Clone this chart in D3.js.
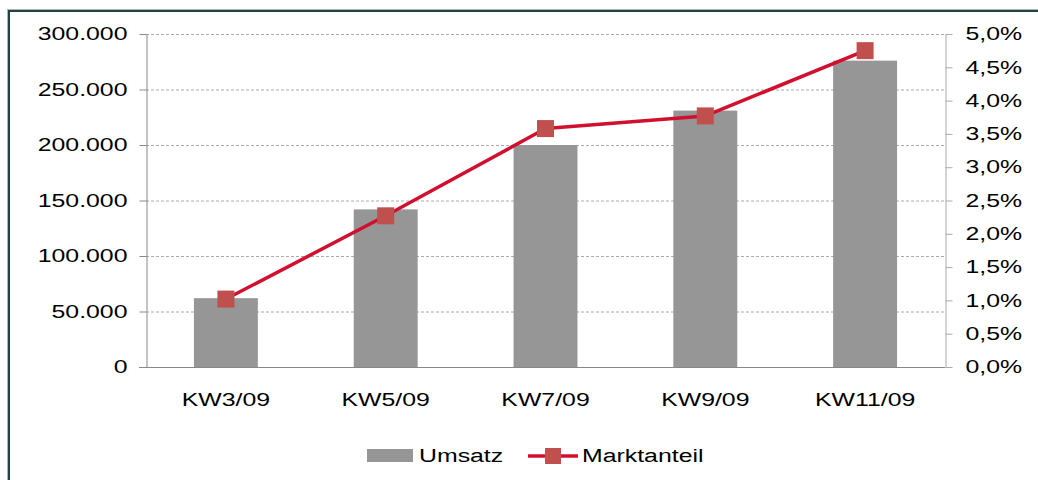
<!DOCTYPE html>
<html>
<head>
<meta charset="utf-8">
<script src="https://cdn.jsdelivr.net/npm/d3@7"></script>
<style>
  body { margin: 0; background: #fff; }
  text { font-family: "Liberation Sans", Arial, sans-serif; fill: #000; }
</style>
</head>
<body>
<div id="vis"></div>
<script>
// data
var categories = ["KW3/09", "KW5/09", "KW7/09", "KW9/09", "KW11/09"];
var umsatz = [62000, 142000, 200000, 231000, 276000];
var marktanteil = [0.0102, 0.0227, 0.0358, 0.0377, 0.0475];
var leftTicks = [0, 50000, 100000, 150000, 200000, 250000, 300000];
var rightTicks = [0, 0.005, 0.01, 0.015, 0.02, 0.025, 0.03, 0.035, 0.04, 0.045, 0.05];

// SVG geometry
var width = 1038;
var height = 480;
var plot = { left: 146, right: 945, top: 34, bottom: 367 };

var svg = d3.select('#vis')
  .append("svg")
  .attr('width', width)
  .attr('height', height);

// the original picture is stretched sideways, so widen the text the same way
function stretch(sel) {
  sel.each(function() {
    var len = this.getComputedTextLength();
    d3.select(this)
      .attr("textLength", len * 1.38)
      .attr("lengthAdjust", "spacingAndGlyphs");
  });
}

// frame
svg.append("rect")
  .attr("x", 7.5).attr("y", 9.5)
  .attr("width", width + 20).attr("height", height + 20)
  .attr("fill", "none")
  .attr("stroke", "#9fbcbc")
  .attr("stroke-width", 1);
svg.append("rect")
  .attr("x", 9).attr("y", 11)
  .attr("width", width + 20).attr("height", height + 20)
  .attr("fill", "none")
  .attr("stroke", "#2a4040")
  .attr("stroke-width", 2);

var x = d3.scaleBand()
  .domain(categories)
  .range([plot.left, plot.right])
  .paddingInner(0.6)
  .paddingOuter(0.3);

var yL = d3.scaleLinear()
  .domain([0, 300000])
  .range([plot.bottom, plot.top]);

var yR = d3.scaleLinear()
  .domain([0, 0.05])
  .range([plot.bottom, plot.top]);

var fmtL = function(d) { return d3.format(",")(d).replace(/,/g, "."); };
var fmtR = function(d) { return d3.format(".1f")(d * 100).replace(".", ",") + "%"; };

// gridlines
svg.append("g")
  .selectAll("line")
  .data(leftTicks.filter(function(d) { return d > 0; }))
  .enter().append("line")
  .attr("x1", plot.left).attr("x2", plot.right)
  .attr("y1", function(d) { return yL(d) + 0.5; })
  .attr("y2", function(d) { return yL(d) + 0.5; })
  .attr("stroke", "#aaa")
  .attr("stroke-dasharray", "3,2");

// bars
svg.append("g")
  .selectAll("rect")
  .data(umsatz)
  .enter().append("rect")
  .attr("x", function(d, i) { return x(categories[i]); })
  .attr("y", function(d) { return yL(d); })
  .attr("width", x.bandwidth())
  .attr("height", function(d) { return yL(0) - yL(d); })
  .attr("fill", "#969696");

// left axis
var axL = svg.append("g")
  .attr("transform", "translate(" + (plot.left + 0.5) + ",0)")
  .call(d3.axisLeft(yL).tickValues(leftTicks).tickFormat(fmtL).tickSize(7).tickPadding(12).tickSizeOuter(0));
axL.select(".domain").attr("stroke", "#888");
axL.selectAll(".tick line").attr("stroke", "#888");
axL.selectAll("text").style("font-size", "18px").attr("fill", "#000").call(stretch);

// right axis
var axR = svg.append("g")
  .attr("transform", "translate(" + (plot.right + 0.5) + ",0)")
  .call(d3.axisRight(yR).tickValues(rightTicks).tickFormat(fmtR).tickSize(7).tickPadding(13).tickSizeOuter(0));
axR.select(".domain").attr("stroke", "#aaa");
axR.selectAll(".tick line").attr("stroke", "#aaa");
axR.selectAll("text").style("font-size", "18px").attr("fill", "#000").call(stretch);

// bottom axis
var axB = svg.append("g")
  .attr("transform", "translate(0," + (plot.bottom + 0.5) + ")")
  .call(d3.axisBottom(x).tickSize(0).tickPadding(26));
axB.select(".domain").attr("stroke", "#888").attr("d", "M" + (plot.left - 7) + ",0H" + plot.right);
axB.selectAll("text").style("font-size", "18px").attr("fill", "#000").call(stretch);

// line
var line = d3.line()
  .x(function(d, i) { return x(categories[i]) + x.bandwidth() / 2; })
  .y(function(d) { return yR(d); });

svg.append("path")
  .datum(marktanteil)
  .attr("fill", "none")
  .attr("stroke", "#d0102e")
  .attr("stroke-width", 3.5)
  .attr("stroke-linejoin", "round")
  .attr("d", line);

svg.append("g")
  .selectAll("rect")
  .data(marktanteil)
  .enter().append("rect")
  .attr("x", function(d, i) { return x(categories[i]) + x.bandwidth() / 2 - 8.5; })
  .attr("y", function(d) { return yR(d) - 8.5; })
  .attr("width", 17).attr("height", 17)
  .attr("fill", "#c0504d");

// legend
var leg = svg.append("g").attr("transform", "translate(0,456)");
leg.append("rect")
  .attr("x", 367).attr("y", -7).attr("width", 46).attr("height", 13)
  .attr("fill", "#969696");
leg.append("text")
  .attr("x", 419).attr("y", 0).attr("dy", "0.35em")
  .style("font-size", "18px").text("Umsatz").call(stretch);
leg.append("line")
  .attr("x1", 528).attr("x2", 578).attr("y1", 0).attr("y2", 0)
  .attr("stroke", "#d0102e").attr("stroke-width", 3.5);
leg.append("rect")
  .attr("x", 545).attr("y", -8).attr("width", 16).attr("height", 16)
  .attr("fill", "#c0504d");
leg.append("text")
  .attr("x", 582).attr("y", 0).attr("dy", "0.35em")
  .style("font-size", "18px").text("Marktanteil").call(stretch);
</script>
</body>
</html>
